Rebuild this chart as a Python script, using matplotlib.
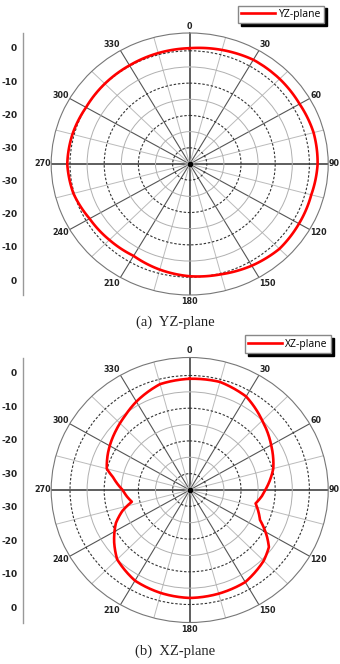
import numpy as np
import matplotlib.pyplot as plt

# measured pattern, angle in degrees (clockwise from top) and gain in dB
yz_angle = [0, 15, 30, 45, 60, 75, 90, 105, 120, 135, 150, 165,
            180, 195, 210, 225, 240, 255, 270, 285, 300, 315, 330, 345]
yz_gain = [0.8, 1.5, 2.2, 2.2, 2.1, 2.5, 2.4, 1.8, 1.9, 2.1, 1.3, 0.3,
           -0.3, -1.2, -2.2, -1.8, -1.2, 0.2, 0.8, 0.5, 0.0, 0.1, 0.2, 0.5]

xz_angle = [0, 15, 30, 45, 60, 75, 90, 95, 102, 114, 122, 127, 135, 150,
            165, 180, 195, 210, 225, 234, 245, 252, 258, 264, 270, 275,
            280, 285, 295, 310, 320, 330, 345]
xz_gain = [-1.0, -0.8, -2.0, -5.0, -7.5, -9.7, -12.9, -13.8, -15.3, -12.5,
           -8.4, -6.0, -4.4, -2.5, -2.2, -2.0, -2.4, -3.0, -5.0, -7.7, -11.2,
           -14.3, -17.7, -16.5, -15.4, -13.8, -12.2, -9.9, -8.6, -6.8, -5.5,
           -3.8, -1.5]

ring_major = [-30, -20, -10, 0]
ring_minor = [-25, -15, -5]
spoke_angles = list(range(0, 360, 30))
spoke_labels = [str(a) for a in spoke_angles]
scale_values = [0, -10, -20, -30]
r_min, r_max = -35, 5.5

W, H = 340, 664


def draw_panel(fig, rect, angles, gain, name, caption, caption_y, legend_corner):
    ax = fig.add_axes(rect, projection="polar")
    ax.set_aspect("auto")
    ax.set_theta_zero_location("N")
    ax.set_theta_direction(-1)
    ax.set_ylim(r_min, r_max)

    # rings
    ax.set_yticks(ring_major)
    ax.set_yticks(ring_minor, minor=True)
    ax.set_yticklabels([])
    ax.yaxis.grid(True, which="major", color="#333333", linestyle=(0, (2.2, 1.6)), linewidth=0.8)
    ax.yaxis.grid(True, which="minor", color="#b0b0b0", linestyle="-", linewidth=0.7)
    ax.tick_params(axis="y", which="both", length=0)

    # spokes
    ax.set_xticks(np.deg2rad(spoke_angles))
    ax.set_xticks(np.deg2rad(np.arange(15, 360, 30)), minor=True)
    ax.set_xticklabels([])
    ax.xaxis.grid(True, which="major", color="#555555", linewidth=0.8)
    ax.xaxis.grid(True, which="minor", color="#bbbbbb", linewidth=0.7)
    for i, gl in enumerate(ax.xaxis.get_gridlines()):
        if i % 3 == 0:
            gl.set_color("#333333")
            gl.set_linewidth(1.1)
    ax.tick_params(axis="x", which="major", direction="out", length=3, width=0.8,
                   color="#444444")
    ax.tick_params(axis="x", which="minor", length=0)
    ax.spines["polar"].set_color("#777777")
    ax.spines["polar"].set_linewidth(0.8)

    # angle labels just past the spoke ends
    for a, txt in zip(spoke_angles, spoke_labels):
        s, c = np.sin(np.deg2rad(a)), np.cos(np.deg2rad(a))
        if s > 0.3:
            ha = "left"
        elif s < -0.3:
            ha = "right"
        else:
            ha = "center"
        ax.annotate(txt, (np.deg2rad(a), r_max), xytext=(0.3 * s, 5.0 * c),
                    textcoords="offset points", ha=ha, va="center",
                    fontsize=5.8, fontweight="bold", color="#222222",
                    annotation_clip=False)

    theta = np.deg2rad(angles + [360])
    r = gain + [gain[0]]
    line, = ax.plot(theta, r, color="#ff0000", linewidth=1.9, label=name, zorder=5)
    # let the polar transform draw each segment as a curve
    line.get_path()._interpolation_steps = 40
    ax.plot([0], [r_min], "o", color="black", markersize=3, zorder=6)

    ax.legend(loc="upper right", bbox_to_anchor=legend_corner, bbox_transform=fig.transFigure,
              borderaxespad=0, handlelength=3.3, handletextpad=0.3,
              borderpad=0.3, fancybox=False, edgecolor="#888888", framealpha=1,
              shadow={"color": "black", "alpha": 1.0},
              prop={"family": "Open Sans", "size": 7.5})

    # vertical dB scale on the left
    sc = fig.add_axes([22.7 / W, rect[1], 0.0005, rect[3]])
    sc.set_ylim(-39.5, 39.5)
    pos = [v - r_min for v in scale_values]
    sc.set_yticks(pos + [-p for p in pos])
    sc.set_yticklabels([str(v) for v in scale_values] * 2)
    sc.set_xticks([])
    for s in ["top", "right", "bottom"]:
        sc.spines[s].set_visible(False)
    sc.spines["left"].set_color("#999999")
    sc.spines["left"].set_linewidth(1.0)
    sc.tick_params(axis="y", length=0, pad=4, labelsize=6.5, labelcolor="#222222")
    for lab in sc.get_yticklabels():
        lab.set_fontweight("bold")

    fig.text(175 / W, caption_y, caption, ha="center", va="center",
             family="Liberation Serif", fontsize=10.5, color="#222222")


fig = plt.figure(figsize=(W / 100, H / 100), dpi=100)

draw_panel(fig, [51.2 / W, 1 - 295 / H, 277 / W, 262 / H], yz_angle, yz_gain,
           "YZ-plane", "(a)  YZ-plane", 1 - 322 / H, (324 / W, 1 - 5.7 / H))
draw_panel(fig, [51.2 / W, 1 - 622.5 / H, 277 / W, 265 / H], xz_angle, xz_gain,
           "XZ-plane", "(b)  XZ-plane", 1 - 651 / H, (331 / W, 1 - 335.5 / H))

fig.savefig("out.png", dpi=100)
